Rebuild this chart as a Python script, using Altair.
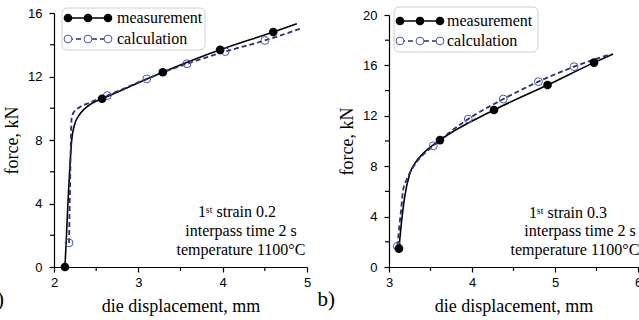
import altair as alt
import pandas as pd

# ---------------- panel a ----------------
A_MEAS_LINE_X = [2.13, 2.148, 2.165, 2.185, 2.21, 2.24, 2.29, 2.37, 2.46, 2.57, 3.29, 3.97, 4.60, 4.88]
A_MEAS_LINE_Y = [0.0, 2.0, 4.0, 6.0, 8.0, 8.9, 9.5, 10.0, 10.35, 10.6, 12.27, 13.68, 14.80, 15.32]
A_MEAS_PTS_X = [2.13, 2.57, 3.29, 3.97, 4.60]
A_MEAS_PTS_Y = [0.0, 10.6, 12.27, 13.68, 14.80]
A_CALC_LINE_X = [2.178, 2.19, 2.20, 2.21, 2.24, 2.30, 2.42, 2.633, 3.10, 3.576, 4.03, 4.50, 4.94]
A_CALC_LINE_Y = [1.52, 5.0, 8.0, 9.4, 9.8, 10.05, 10.35, 10.80, 11.85, 12.80, 13.57, 14.27, 15.05]
A_CALC_PTS_X = [2.178, 2.633, 3.10, 3.576, 4.03, 4.50]
A_CALC_PTS_Y = [1.52, 10.80, 11.85, 12.80, 13.57, 14.27]
A_X_DOMAIN = [2, 5]
A_Y_DOMAIN = [0, 16]
A_X_TICKS = [2, 3, 4, 5]
A_X_MINOR = [2.5, 3.5, 4.5]
A_Y_TICKS = [0, 4, 8, 12, 16]
A_Y_MINOR = [2, 6, 10, 14]
A_NOTE = ["1ˢᵗ strain 0.2", "interpass time 2 s", "temperature 1100°C"]

# ---------------- panel b ----------------
B_MEAS_LINE_X = [3.12, 3.153, 3.19, 3.25, 3.31, 3.41, 3.614, 4.265, 4.91, 5.47, 5.70]
B_MEAS_LINE_Y = [1.5, 3.7, 5.6, 7.4, 8.2, 9.0, 10.07, 12.46, 14.44, 16.22, 16.9]
B_MEAS_PTS_X = [3.12, 3.614, 4.265, 4.91, 5.47]
B_MEAS_PTS_Y = [1.46, 10.07, 12.46, 14.44, 16.22]
B_CALC_LINE_X = [3.10, 3.145, 3.17, 3.21, 3.27, 3.33, 3.534, 3.955, 4.377, 4.80, 5.23, 5.64]
B_CALC_LINE_Y = [1.65, 4.5, 6.1, 6.9, 7.7, 8.3, 9.62, 11.74, 13.33, 14.71, 15.9, 16.83]
B_CALC_PTS_X = [3.10, 3.534, 3.955, 4.377, 4.80, 5.23]
B_CALC_PTS_Y = [1.65, 9.62, 11.74, 13.33, 14.71, 15.9]
B_X_DOMAIN = [3, 6]
B_Y_DOMAIN = [0, 20]
B_X_TICKS = [3, 4, 5, 6]
B_X_MINOR = [3.5, 4.5, 5.5]
B_Y_TICKS = [0, 4, 8, 12, 16, 20]
B_Y_MINOR = [2, 6, 10, 14, 18]
B_NOTE = ["1ˢᵗ strain 0.3", "interpass time 2 s", "temperature 1100°C"]

SERIES = ["measurement", "calculation"]
X_TITLE = "die displacement, mm"
Y_TITLE = "force, kN"

MEAS_COLOR = "black"
CALC_COLOR = "#26307c"
CALC_PT_COLOR = "#4a56aa"
SERIF = "Liberation Serif"
W_TOTAL, H_TOTAL = 639, 320


def one():
    return pd.DataFrame({"k": [0]})


def panel(box, mlx, mly, mpx, mpy, clx, cly, cpx, cpy, xdom, ydom, xt, xm, yt, ym,
          note, note_pos, leg, tag, tag_pos):
    x0, x1, top, bottom = box
    xs = alt.Scale(domain=xdom, range=[x0, x1], nice=False, zero=False)
    ys = alt.Scale(domain=ydom, range=[bottom, top], nice=False, zero=False)
    xax = alt.Axis(orient="bottom", offset=-(H_TOTAL - bottom), values=xt, title=X_TITLE,
                   labelPadding=4, titlePadding=8, format="d", labelFlush=False)
    yax = alt.Axis(orient="left", offset=-x0, values=yt, title=Y_TITLE,
                   labelPadding=7, titlePadding=6, format="d", labelFlush=False)

    meas_line = alt.Chart(pd.DataFrame({"x": mlx, "y": mly})).mark_line(
        color=MEAS_COLOR, strokeWidth=1.6, interpolate="monotone"
    ).encode(x=alt.X("x:Q", scale=xs, axis=xax), y=alt.Y("y:Q", scale=ys, axis=yax))
    calc_line = alt.Chart(pd.DataFrame({"x": clx, "y": cly})).mark_line(
        color=CALC_COLOR, strokeWidth=1.8, strokeDash=[5, 3], interpolate="monotone"
    ).encode(x="x:Q", y="y:Q")
    meas_pts = alt.Chart(pd.DataFrame({"x": mpx, "y": mpy})).mark_point(
        shape="circle", filled=True, color=MEAS_COLOR, size=75, opacity=1
    ).encode(x="x:Q", y="y:Q")
    calc_pts = alt.Chart(pd.DataFrame({"x": cpx, "y": cpy})).mark_point(
        shape="circle", filled=False, color=CALC_PT_COLOR, size=62, strokeWidth=1, opacity=1
    ).encode(x="x:Q", y="y:Q")

    minor_y = alt.Chart(pd.DataFrame({"y": ym})).mark_rule(color="black", strokeWidth=1.2).encode(
        y="y:Q", x=alt.value(x0 - 4), x2=alt.value(x0))
    minor_x = alt.Chart(pd.DataFrame({"x": xm})).mark_rule(color="black", strokeWidth=1.2).encode(
        x="x:Q", y=alt.value(bottom), y2=alt.value(bottom + 4))

    layers = [meas_line, minor_y, minor_x, calc_line, calc_pts, meas_pts]

    # annotation
    for (t, (px, py)) in zip(note, note_pos):
        layers.append(alt.Chart(one()).mark_text(
            font=SERIF, fontSize=16, color="black", align="center", baseline="middle"
        ).encode(text=alt.value(t), x=alt.value(px), y=alt.value(py)))

    # legend box
    lx0, lx1, ly0, ly1, rows, cx, tx = leg
    layers.append(alt.Chart(one()).mark_rect(
        fill="white", stroke="#cfcfcf", strokeWidth=1, cornerRadius=5
    ).encode(x=alt.value(lx0), x2=alt.value(lx1), y=alt.value(ly0), y2=alt.value(ly1)))
    styles = [
        dict(color=MEAS_COLOR, dash=None, filled=True, pcol=MEAS_COLOR, size=75),
        dict(color=CALC_COLOR, dash=[5, 3], filled=False, pcol=CALC_PT_COLOR, size=62),
    ]
    for name, ry, st in zip(SERIES, rows, styles):
        rule_kw = dict(color=st["color"], strokeWidth=1.7)
        if st["dash"]:
            rule_kw["strokeDash"] = st["dash"]
        layers.append(alt.Chart(one()).mark_rule(**rule_kw).encode(
            x=alt.value(cx[0]), x2=alt.value(cx[-1]), y=alt.value(ry)))
        for c in cx:
            layers.append(alt.Chart(one()).mark_point(
                shape="circle", filled=st["filled"], color=st["pcol"], size=st["size"],
                opacity=1, strokeWidth=1, fill=("white" if not st["filled"] else st["pcol"])
            ).encode(x=alt.value(c), y=alt.value(ry)))
        layers.append(alt.Chart(one()).mark_text(
            font=SERIF, fontSize=16, color="black", align="left", baseline="middle"
        ).encode(text=alt.value(name), x=alt.value(tx), y=alt.value(ry)))

    # panel tag
    layers.append(alt.Chart(one()).mark_text(
        font=SERIF, fontSize=21, color="black", align="right", baseline="middle"
    ).encode(text=alt.value(tag), x=alt.value(tag_pos[0]), y=alt.value(tag_pos[1])))

    return alt.layer(*layers)


left = panel(
    (54, 307, 13, 267),
    A_MEAS_LINE_X, A_MEAS_LINE_Y, A_MEAS_PTS_X, A_MEAS_PTS_Y,
    A_CALC_LINE_X, A_CALC_LINE_Y, A_CALC_PTS_X, A_CALC_PTS_Y,
    A_X_DOMAIN, A_Y_DOMAIN, A_X_TICKS, A_X_MINOR, A_Y_TICKS, A_Y_MINOR,
    A_NOTE, [(237, 212), (241, 231), (241, 250)],
    (62, 205, 8, 50, [18, 39], [68, 88, 108], 117), "a)", (4, 300),
)
right = panel(
    (389, 638, 15, 267),
    B_MEAS_LINE_X, B_MEAS_LINE_Y, B_MEAS_PTS_X, B_MEAS_PTS_Y,
    B_CALC_LINE_X, B_CALC_LINE_Y, B_CALC_PTS_X, B_CALC_PTS_Y,
    B_X_DOMAIN, B_Y_DOMAIN, B_X_TICKS, B_X_MINOR, B_Y_TICKS, B_Y_MINOR,
    B_NOTE, [(568, 213), (580, 231), (575, 250)],
    (394, 538, 7, 52, [21, 41], [400, 420, 440], 447), "b)", (335, 300),
)

chart = alt.layer(left, right).resolve_scale(
    x="independent", y="independent"
).properties(
    width=W_TOTAL, height=H_TOTAL,
    autosize=alt.AutoSizeParams(type="none"), padding=0,
).configure_view(stroke=None).configure_axis(
    grid=False, domainColor="black", tickColor="black", labelColor="black",
    labelFont="Liberation Sans", labelFontSize=13, titleFont=SERIF, titleFontSize=18,
    titleFontWeight="normal", titleColor="black", tickSize=5, domainWidth=1.2, tickWidth=1.2,
    labelFlush=False,
)

chart.save("out.html", embed_options={"renderer": "svg", "actions": False})
